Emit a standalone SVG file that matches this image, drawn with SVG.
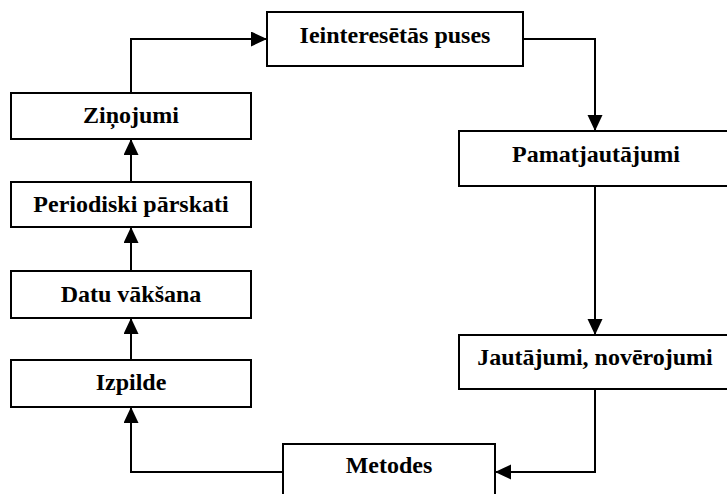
<svg xmlns="http://www.w3.org/2000/svg" width="727" height="494" viewBox="0 0 727 494">
  <style>
    .box { fill: #ffffff; stroke: #000000; stroke-width: 2; }
    .lbl { font-family: "Liberation Serif", "Times New Roman", serif; font-weight: bold; font-size: 24px; fill: #000000; text-anchor: middle; }
    .edge { fill: none; stroke: #000000; stroke-width: 2; marker-end: url(#head); }
  </style>
  <defs>
    <marker id="head" markerUnits="userSpaceOnUse" markerWidth="17" markerHeight="16" refX="16" refY="7.5" orient="auto" viewBox="0 0 17 16">
      <path d="M0,0 L16,7.5 L0,15 Z" fill="#000000"/>
    </marker>
  </defs>
  <rect width="727" height="494" fill="#ffffff"/>

  <g id="connectors">
    <path class="edge" d="M131,93 V39 H267"/>
    <path class="edge" d="M523,39 H595 V131"/>
    <path class="edge" d="M595,186 V335"/>
    <path class="edge" d="M595,389 V472 H495"/>
    <path class="edge" d="M283,472 H131 V407"/>
    <path class="edge" d="M131,360 V318"/>
    <path class="edge" d="M131,271 V227"/>
    <path class="edge" d="M131,182 V139"/>
  </g>

  <g id="ieinteresetas">
    <rect class="box" x="267" y="12" width="256" height="54"/>
    <text class="lbl" x="395" y="43">Ieinteresētās puses</text>
  </g>
  <g id="pamatjautajumi">
    <rect class="box" x="459" y="131" width="290" height="55"/>
    <text class="lbl" x="596" y="162">Pamatjautājumi</text>
  </g>
  <g id="jautajumi">
    <rect class="box" x="459" y="335" width="290" height="54"/>
    <text class="lbl" x="595" y="365">Jautājumi, novērojumi</text>
  </g>
  <g id="metodes">
    <rect class="box" x="283" y="444" width="212" height="70"/>
    <text class="lbl" x="389" y="473">Metodes</text>
  </g>
  <g id="izpilde">
    <rect class="box" x="11" y="360" width="240" height="47"/>
    <text class="lbl" x="131" y="390">Izpilde</text>
  </g>
  <g id="datu-vaksana">
    <rect class="box" x="11" y="271" width="240" height="47"/>
    <text class="lbl" x="131" y="302">Datu vākšana</text>
  </g>
  <g id="periodiski">
    <rect class="box" x="11" y="182" width="240" height="45"/>
    <text class="lbl" x="131" y="212">Periodiski pārskati</text>
  </g>
  <g id="zinojumi">
    <rect class="box" x="11" y="93" width="240" height="46"/>
    <text class="lbl" x="131" y="123">Ziņojumi</text>
  </g>
</svg>
